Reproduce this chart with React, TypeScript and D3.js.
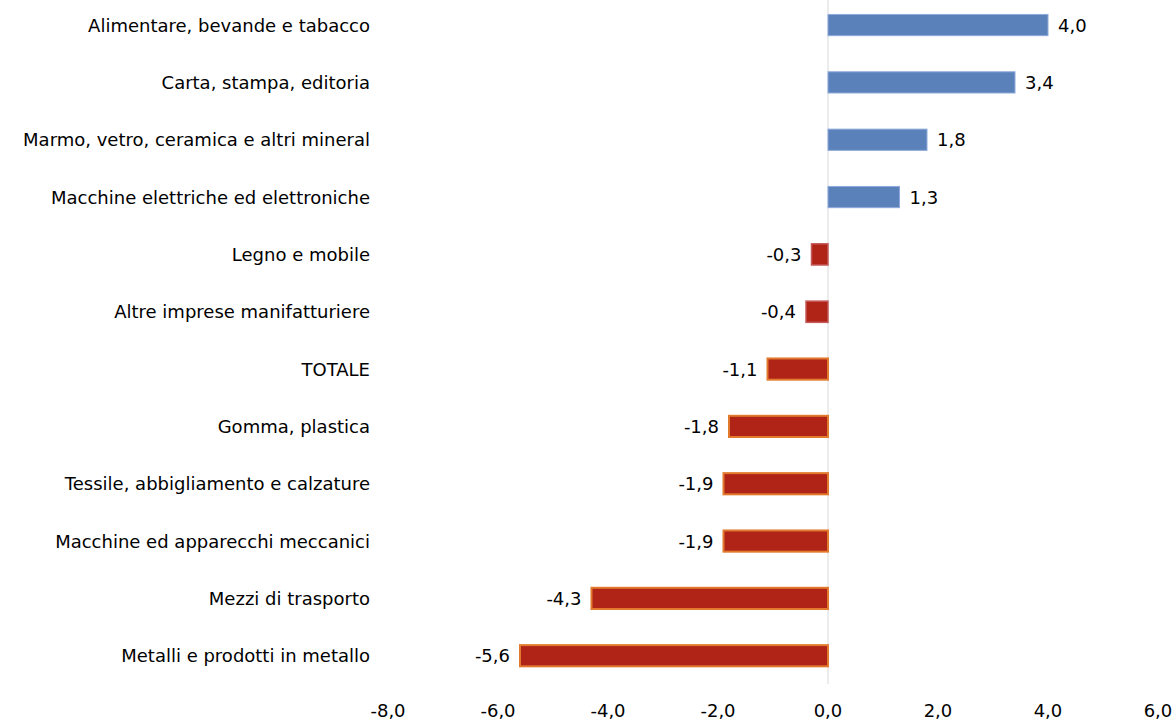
import React from "react";
import * as d3 from "d3";

const categories = [
  "Alimentare, bevande e tabacco",
  "Carta, stampa, editoria",
  "Marmo, vetro, ceramica e altri mineral",
  "Macchine elettriche ed elettroniche",
  "Legno e mobile",
  "Altre imprese manifatturiere",
  "TOTALE",
  "Gomma, plastica",
  "Tessile, abbigliamento e calzature",
  "Macchine ed apparecchi meccanici",
  "Mezzi di trasporto",
  "Metalli e prodotti in metallo",
];
const values = [4.0, 3.4, 1.8, 1.3, -0.3, -0.4, -1.1, -1.8, -1.9, -1.9, -4.3, -5.6];
const xTicks = [-8, -6, -4, -2, 0, 2, 4, 6];

const W = 1174;
const H = 721;
const FONT = "'DejaVu Sans', Verdana, sans-serif";
const FS = 18;

export default function App() {
  const x = d3.scaleLinear().domain([-8, 6]).range([388, 1158]);
  const y = d3.scaleBand<string>().domain(categories).range([-3.6, 684.4]).paddingInner(0.63).paddingOuter(0.315);
  const fmt = (v: number) => d3.format(".1f")(v).replace(".", ",").replace("−", "-");
  const bh = y.bandwidth();

  return (
    <svg width={W} height={H} style={{ position: "absolute", left: 0, top: 0, background: "#fff" }}>
      <line x1={x(0)} x2={x(0)} y1={0} y2={684} stroke="#d9d9d9" strokeWidth={1} />
      {categories.map((c, i) => {
        const v = values[i];
        const x0 = x(Math.min(0, v));
        const w = Math.abs(x(v) - x(0));
        const yy = y(c)!;
        const cy = yy + bh / 2;
        const pos = v >= 0;
        const stroke = pos ? "#8eaadb" : Math.abs(v) < 1 ? "#c55a5a" : "#e27a2e";
        const sw = pos ? 1 : Math.abs(v) < 1 ? 1.5 : 2;
        return (
          <g key={c}>
            <rect
              x={x0}
              y={yy}
              width={w}
              height={bh}
              fill={pos ? "#5a81ba" : "#b02418"}
              stroke={stroke}
              strokeWidth={sw}
            />
            <text
              x={pos ? x(v) + 10 : x(v) - 10}
              y={cy}
              dy="0.36em"
              textAnchor={pos ? "start" : "end"}
              fontFamily={FONT}
              fontSize={FS}
              fill="#000"
            >
              {fmt(v)}
            </text>
            <text x={370} y={cy} dy="0.36em" textAnchor="end" fontFamily={FONT} fontSize={FS} fill="#000">
              {c}
            </text>
          </g>
        );
      })}
      {xTicks.map((t) => (
        <text key={t} x={x(t)} y={717} textAnchor="middle" fontFamily={FONT} fontSize={FS} fill="#000">
          {fmt(t)}
        </text>
      ))}
    </svg>
  );
}
